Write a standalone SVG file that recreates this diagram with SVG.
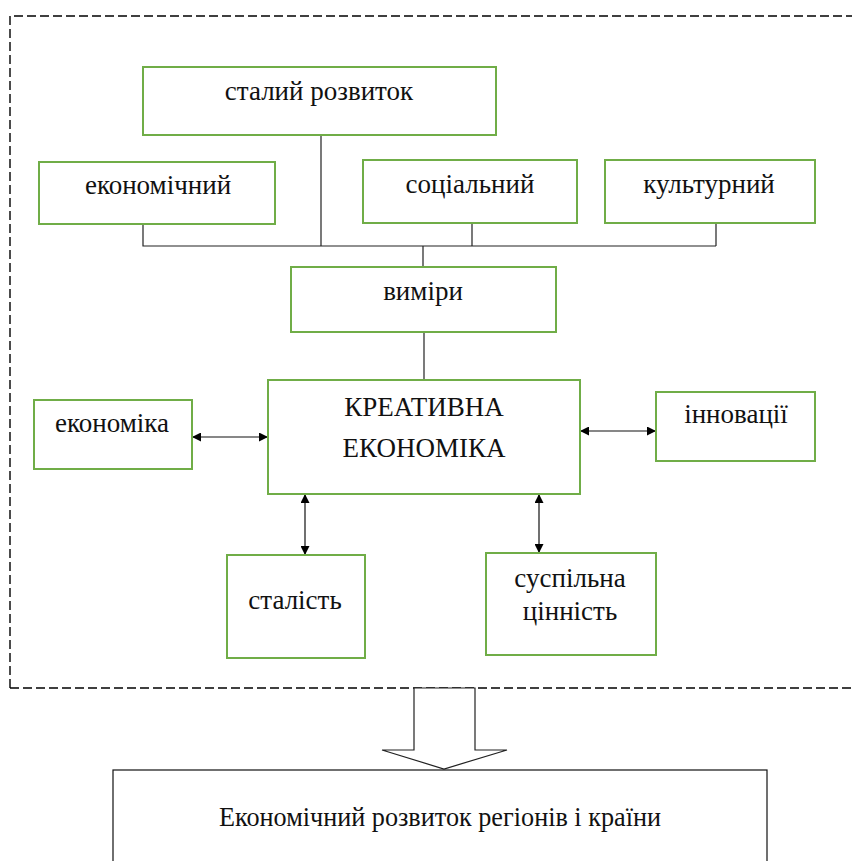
<svg xmlns="http://www.w3.org/2000/svg" width="852" height="861" viewBox="0 0 852 861">
<style>
.box{fill:#fff;stroke:#70AD47;stroke-width:2}
.t{font-family:'Liberation Serif',serif;font-size:27px;fill:#111;text-anchor:middle}
.ln{stroke:#222;stroke-width:1.2;fill:none}
.ar{stroke:#111;stroke-width:1.2;fill:none;marker-start:url(#ah);marker-end:url(#ah)}
.dash{fill:none;stroke:#000;stroke-width:1.4;stroke-dasharray:9,4}
</style>
<defs>
<marker id="ah" viewBox="0 0 10 10" refX="10" refY="5" markerWidth="10" markerHeight="9" markerUnits="userSpaceOnUse" orient="auto-start-reverse">
<path d="M0,0 L10,5 L0,10 Z" fill="#000"/>
</marker>
</defs>
<path class="dash" d="M10,688 L10,16 L852,16"/>
<path class="dash" d="M10,688 L852,688"/>
<g id="connectors">
<path class="ln" d="M321,135 V246 M143,224 V246 H716 M472,223 V246 M716,223 V246 M423,246 V267"/>
<path class="ln" d="M424,332 V380"/>
<path class="ar" d="M192,437 H268"/>
<path class="ar" d="M580,431 H656"/>
<path class="ar" d="M305,494 V555"/>
<path class="ar" d="M539,494 V553"/>
</g>
<g font-family="'Liberation Serif', serif">
<g id="n-stalyi"><rect class="box" x="143" y="67" width="353" height="68"/><text class="t" x="319" y="100">сталий розвиток</text></g>
<g id="n-ekonomichnyi"><rect class="box" x="39" y="162" width="236" height="62"/><text class="t" x="158" y="194">економічний</text></g>
<g id="n-sotsialnyi"><rect class="box" x="363" y="160" width="214" height="63"/><text class="t" x="470" y="193">соціальний</text></g>
<g id="n-kulturnyi"><rect class="box" x="605" y="160" width="210" height="63"/><text class="t" x="709" y="193">культурний</text></g>
<g id="n-vymiry"><rect class="box" x="291" y="267" width="265" height="65"/><text class="t" x="423" y="300">виміри</text></g>
<g id="n-kreatyvna"><rect class="box" x="268" y="380" width="312" height="114"/><text class="t" x="424" y="416">КРЕАТИВНА</text><text class="t" x="424" y="457">ЕКОНОМІКА</text></g>
<g id="n-ekonomika"><rect class="box" x="34" y="400" width="158" height="69"/><text class="t" x="112" y="432">економіка</text></g>
<g id="n-innovatsii"><rect class="box" x="656" y="392" width="159" height="69"/><text class="t" x="736" y="423">інновації</text></g>
<g id="n-stalist"><rect class="box" x="227" y="555" width="138" height="103"/><text class="t" x="295" y="609">сталість</text></g>
<g id="n-suspilna"><rect class="box" x="486" y="553" width="170" height="102"/><text class="t" x="570" y="587">суспільна</text><text class="t" x="570" y="620">цінність</text></g>
</g>
<g id="n-arrow"><polygon points="414,688 475,688 475,750 507,750 444,769 382,750 414,750" fill="#fff" stroke="#222" stroke-width="1.2"/></g>
<g id="n-rozvytok"><rect x="113" y="770" width="654" height="110" fill="#fff" stroke="#111" stroke-width="1.2"/><text x="440" y="826" font-family="'Liberation Serif', serif" font-size="27" fill="#111" text-anchor="middle" textLength="442" lengthAdjust="spacingAndGlyphs">Економічний розвиток регіонів і країни</text></g>
</svg>
